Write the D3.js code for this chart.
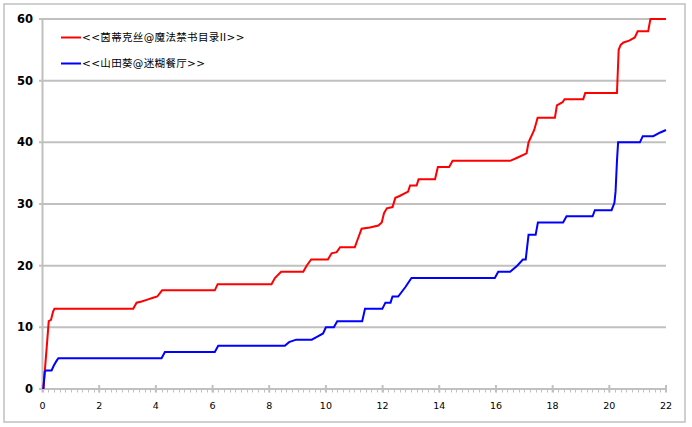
<!DOCTYPE html>
<html><head><meta charset="utf-8">
<script src="https://cdn.jsdelivr.net/npm/d3@7/dist/d3.min.js"></script>
<style>
html,body{margin:0;padding:0;background:#fff;}
svg{display:block;}
</style></head>
<body>
<svg id="chart" width="692" height="427"></svg>
<script>
const seriesNames = ["<<茵蒂克丝@魔法禁书目录II>>", "<<山田葵@迷糊餐厅>>"];
const seriesColors = ["#ff0000", "#0000ff"];
const xTicks = [0,2,4,6,8,10,12,14,16,18,20,22];
const yTicks = [0,10,20,30,40,50,60];

const redX = [0.03,0.1,0.17,0.22,0.3,0.37,0.42,3.2,3.32,3.5,3.7,3.9,4.05,4.22,6.08,6.18,8.08,8.2,8.42,9.2,9.32,9.48,10.07,10.2,10.38,10.5,11.02,11.1,11.26,11.55,11.85,11.97,12.05,12.15,12.35,12.45,12.6,12.9,12.97,13.2,13.27,13.85,13.95,14.35,14.47,16.5,16.75,17.08,17.15,17.35,17.47,18.08,18.15,18.35,18.42,19.08,19.15,20.27,20.33,20.4,20.5,20.7,20.9,21.0,21.37,21.45,22];
const redY = [0,4,8,11,11.2,12.5,13,13,14,14.2,14.5,14.8,15,16,16,17,17,18,19,19,20,21,21,22,22.2,23,23,24,26,26.2,26.5,27,28.5,29.3,29.5,31,31.3,32,33,33,34,34,36,36,37,37,37.5,38.2,40,42,44,44,46,46.5,47,47,48,48,55,55.8,56.2,56.5,57,58,58,60,60];

const blueX = [0.03,0.08,0.12,0.32,0.4,0.5,0.56,4.2,4.32,6.08,6.2,8.55,8.7,8.95,9.5,9.7,9.9,10.0,10.28,10.4,11.28,11.38,11.99,12.1,12.28,12.35,12.55,12.8,13.02,15.96,16.08,16.5,16.75,16.95,17.05,17.15,17.4,17.48,18.37,18.49,19.41,19.49,20.08,20.18,20.22,20.27,20.31,21.08,21.18,21.55,21.8,22];
const blueY = [0,2.8,3,3,3.8,4.6,5,5,6,6,7,7,7.6,8,8,8.5,9,10,10,11,11,13,13,14,14,15,15,16.5,18,18,19,19,20,21,21,25,25,27,27,28,28,29,29,30.2,32,37,40,40,41,41,41.6,42];

const svg = d3.select("#chart");
const x = d3.scaleLinear().domain([0,22]).range([42.5,666]);
const y = d3.scaleLinear().domain([0,60]).range([389,19]);
const gridCol = "#c0c0c0";

// outer frame
svg.append("rect").attr("x",4).attr("y",4).attr("width",681).attr("height",418)
  .attr("fill","#fff").attr("stroke",gridCol).attr("stroke-width",1.5);

// horizontal gridlines (with left tick stubs)
svg.append("g").selectAll("line").data(yTicks.filter(d=>d>0)).join("line")
  .attr("x1",39).attr("x2",666)
  .attr("y1",d=>y(d)).attr("y2",d=>y(d))
  .attr("stroke",gridCol).attr("stroke-width",2);

// y axis line
svg.append("line").attr("x1",x(0)).attr("x2",x(0)).attr("y1",y(60)-1).attr("y2",y(0)+1)
  .attr("stroke",gridCol).attr("stroke-width",2);
// x axis line
svg.append("line").attr("x1",39).attr("x2",x(22)+1).attr("y1",y(0)).attr("y2",y(0))
  .attr("stroke",gridCol).attr("stroke-width",2);

// minor ticks every 0.2
const minor = d3.range(0,110).map(i=>i*0.2);
svg.append("g").selectAll("line").data(minor).join("line")
  .attr("x1",d=>Math.round(x(d))+0.5).attr("x2",d=>Math.round(x(d))+0.5)
  .attr("y1",y(0)).attr("y2",y(0)+3.5)
  .attr("stroke",gridCol).attr("stroke-width",1);
// major ticks
svg.append("g").selectAll("line").data(xTicks).join("line")
  .attr("x1",d=>x(d)).attr("x2",d=>x(d))
  .attr("y1",y(0)-4).attr("y2",y(0)+3.5)
  .attr("stroke",gridCol).attr("stroke-width",2);

// y labels
svg.append("g").selectAll("text").data(yTicks).join("text")
  .attr("x",33).attr("y",d=>y(d)).attr("dy","0.36em")
  .attr("text-anchor","end")
  .attr("font-family","DejaVu Sans, Verdana, sans-serif")
  .attr("font-weight","bold").attr("font-size",11.5)
  .attr("fill","#000").text(d=>d);

// x labels
svg.append("g").selectAll("text").data(xTicks).join("text")
  .attr("x",d=>x(d)).attr("y",409)
  .attr("text-anchor","middle")
  .attr("font-family","DejaVu Sans, Verdana, sans-serif")
  .attr("font-size",9.5)
  .attr("fill","#000").text(d=>d);

// lines
const line = d3.line().x(d=>x(d[0])).y(d=>y(d[1]));
const series = [d3.zip(redX, redY), d3.zip(blueX, blueY)];
svg.append("g").selectAll("path").data(series).join("path")
  .attr("d",line).attr("fill","none")
  .attr("stroke",(d,i)=>seriesColors[i]).attr("stroke-width",2)
  .attr("stroke-linejoin","miter");

// legend
const lg = svg.append("g").selectAll("g").data(seriesNames).join("g")
  .attr("transform",(d,i)=>`translate(61,${37.5+i*26})`);
lg.append("line").attr("x1",0).attr("x2",20).attr("y1",0).attr("y2",0)
  .attr("stroke",(d,i)=>seriesColors[i]).attr("stroke-width",2);
lg.append("text").attr("x",21).attr("y",0).attr("dy","0.36em")
  .attr("font-family","DejaVu Sans, 'Noto Sans CJK SC', sans-serif")
  .attr("font-size",10.5).attr("fill","#000")
  .attr("letter-spacing",0.35)
  .text(d=>d);
</script>
</body></html>
